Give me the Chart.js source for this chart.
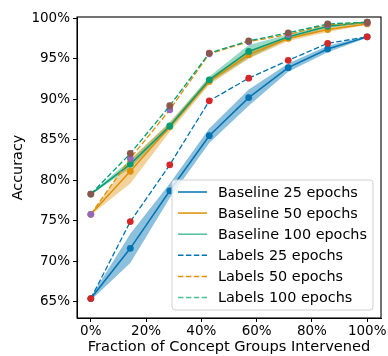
<!DOCTYPE html>
<html>
<head>
<meta charset="utf-8">
<script src="https://cdn.jsdelivr.net/npm/chart.js@4"></script>
<style>
html,body{margin:0;padding:0;background:#fff;}
#wrap{width:388px;height:356px;position:relative;}
</style>
</head>
<body>
<div id="wrap"><canvas id="c" width="388" height="356"></canvas></div>
<script>
// ---- data ----
const fractions = [0, 14.29, 28.57, 42.86, 57.14, 71.43, 85.71, 100];
const xTickValues = [0, 20, 40, 60, 80, 100];
const yTickValues = [65, 70, 75, 80, 85, 90, 95, 100];

const baseline25 = [65.4, 71.6, 78.7, 85.5, 90.2, 93.9, 96.2, 97.7];
const baseline25Spread = [0.2, 1.8, 0.9, 0.9, 1.0, 0.5, 0.4, 0.1];
const labels25 = [65.4, 74.9, 81.9, 89.8, 92.6, 94.8, 96.9, 97.7];

const baseline50 = [75.8, 81.1, 86.6, 92.2, 95.5, 97.5, 98.6, 99.3];
const baseline50Spread = [0.1, 1.5, 0.6, 0.4, 0.5, 0.3, 0.3, 0.1];
const labels50 = [75.8, 82.7, 88.7, 95.6, 97.1, 98.0, 99.2, 99.4];

const baseline100 = [78.3, 82.0, 86.7, 92.4, 95.9, 97.7, 99.0, 99.5];
const baseline100Spread = [0.1, 0.5, 0.4, 0.4, 0.8, 0.3, 0.2, 0.1];
const labels100 = [78.3, 83.3, 89.2, 95.7, 97.2, 98.2, 99.3, 99.5];

const seriesNames = ["Baseline 25 epochs", "Baseline 50 epochs", "Baseline 100 epochs",
                     "Labels 25 epochs", "Labels 50 epochs", "Labels 100 epochs"];

// ---- styling ----
const FONT = "DejaVu Sans";
const BLUE = "#0173b2", ORANGE = "#de8f05", GREEN = "#029e73";
const RED = "#d62728", PURPLE = "#9467bd", BROWN = "#8c564b";

function pts(ys) { return fractions.map((x, i) => ({x: x, y: ys[i]})); }
function band(ys, sp, sign) { return fractions.map((x, i) => ({x: x, y: ys[i] + sign * sp[i]})); }

function bandPair(ys, sp, color) {
  return [
    {data: band(ys, sp, -1), borderWidth: 0, pointRadius: 0, fill: false, order: 20, borderColor: 'rgba(0,0,0,0)'},
    {data: band(ys, sp, 1), borderWidth: 0, pointRadius: 0, fill: '-1', backgroundColor: color, order: 20, borderColor: 'rgba(0,0,0,0)'}
  ];
}
function solid(ys, color, name, ord) {
  return {label: name, data: pts(ys), borderColor: color, borderWidth: 1.5, pointRadius: 3.4,
          pointBackgroundColor: color, pointBorderWidth: 0, fill: false, order: ord};
}
function dashed(ys, color, mcolor, name, ord) {
  return {label: name, data: pts(ys), borderColor: color, borderWidth: 1.3, borderDash: [5.5, 2.4],
          pointRadius: 3.4, pointBackgroundColor: mcolor, pointBorderWidth: 0, fill: false, order: ord};
}

const datasets = [
  ...bandPair(baseline25, baseline25Spread, 'rgba(1,115,178,0.45)'),
  ...bandPair(baseline50, baseline50Spread, 'rgba(222,143,5,0.4)'),
  ...bandPair(baseline100, baseline100Spread, 'rgba(2,158,115,0.4)'),
  solid(baseline25, BLUE, seriesNames[0], 8),
  solid(baseline50, ORANGE, seriesNames[1], 7),
  solid(baseline100, GREEN, seriesNames[2], 6),
  dashed(labels25, BLUE, RED, seriesNames[3], 3),
  dashed(labels50, ORANGE, PURPLE, seriesNames[4], 2),
  dashed(labels100, GREEN, BROWN, seriesNames[5], 1)
];
const legendItems = [
  {name: seriesNames[0], color: BLUE, dash: []},
  {name: seriesNames[1], color: ORANGE, dash: []},
  {name: seriesNames[2], color: '#4fbf98', dash: []},
  {name: seriesNames[3], color: BLUE, dash: [5.5, 2.4]},
  {name: seriesNames[4], color: ORANGE, dash: [5.5, 2.4]},
  {name: seriesNames[5], color: '#4fbf98', dash: [5.5, 2.4]}
];

const framePlugin = {
  id: 'frame',
  afterDraw(chart) {
    const ctx = chart.ctx, a = chart.chartArea;
    ctx.save();
    ctx.strokeStyle = '#000';
    ctx.lineWidth = 1.1;
    ctx.strokeRect(a.left, a.top, a.right - a.left, a.bottom - a.top);
    // legend box
    const bx = a.left + 95, by = a.top + 163, bw = 201, bh = 130, r = 3;
    ctx.beginPath();
    ctx.moveTo(bx + r, by);
    ctx.arcTo(bx + bw, by, bx + bw, by + bh, r);
    ctx.arcTo(bx + bw, by + bh, bx, by + bh, r);
    ctx.arcTo(bx, by + bh, bx, by, r);
    ctx.arcTo(bx, by, bx + bw, by, r);
    ctx.closePath();
    ctx.fillStyle = 'rgba(255,255,255,0.8)';
    ctx.fill();
    ctx.strokeStyle = '#d0d0d0';
    ctx.lineWidth = 1;
    ctx.stroke();
    ctx.font = '14.4px "' + FONT + '"';
    ctx.textBaseline = 'middle';
    ctx.textAlign = 'left';
    legendItems.forEach((it, i) => {
      const y = by + 12 + i * 21.1;
      ctx.beginPath();
      ctx.setLineDash(it.dash);
      ctx.strokeStyle = it.color;
      ctx.lineWidth = 1.5;
      ctx.moveTo(bx + 6, y);
      ctx.lineTo(bx + 35, y);
      ctx.stroke();
      ctx.setLineDash([]);
      ctx.fillStyle = '#000';
      ctx.fillText(it.name, bx + 46, y + 1);
    });
    ctx.restore();
  }
};

new Chart(document.getElementById('c'), {
  type: 'line',
  data: {datasets: datasets},
  plugins: [framePlugin],
  options: {
    responsive: false,
    animation: false,
    devicePixelRatio: 1,
    layout: {padding: {top: 17, right: 7, left: 0, bottom: 0}},
    plugins: {legend: {display: false}, tooltip: {enabled: false}},
    elements: {line: {tension: 0}},
    scales: {
      x: {
        type: 'linear', min: -5, max: 105,
        afterBuildTicks: s => { s.ticks = xTickValues.map(v => ({value: v})); },
        afterFit: s => { s.height = 38; },
        ticks: {callback: v => v + '%', color: '#000', font: {family: FONT, size: 13.5}, padding: 1, maxRotation: 0},
        grid: {display: true, drawOnChartArea: false, drawTicks: true, tickLength: 4, color: '#000'},
        border: {display: true, color: '#000'},
        title: {display: true, text: 'Fraction of Concept Groups Intervened', color: '#000',
                font: {family: FONT, size: 14.6}, padding: {top: 0, bottom: 0}}
      },
      y: {
        type: 'linear', min: 63.0, max: 100.15,
        afterBuildTicks: s => { s.ticks = yTickValues.map(v => ({value: v})); },
        afterFit: s => { s.width = 77; },
        ticks: {callback: v => v + '%', color: '#000', font: {family: FONT, size: 13.5}, padding: 3},
        grid: {display: true, drawOnChartArea: false, drawTicks: true, tickLength: 4, color: '#000'},
        border: {display: true, color: '#000'},
        title: {display: true, text: 'Accuracy', color: '#000',
                font: {family: FONT, size: 14.4}, padding: {top: 10, bottom: 0}}
      }
    }
  }
});
</script>
</body>
</html>
